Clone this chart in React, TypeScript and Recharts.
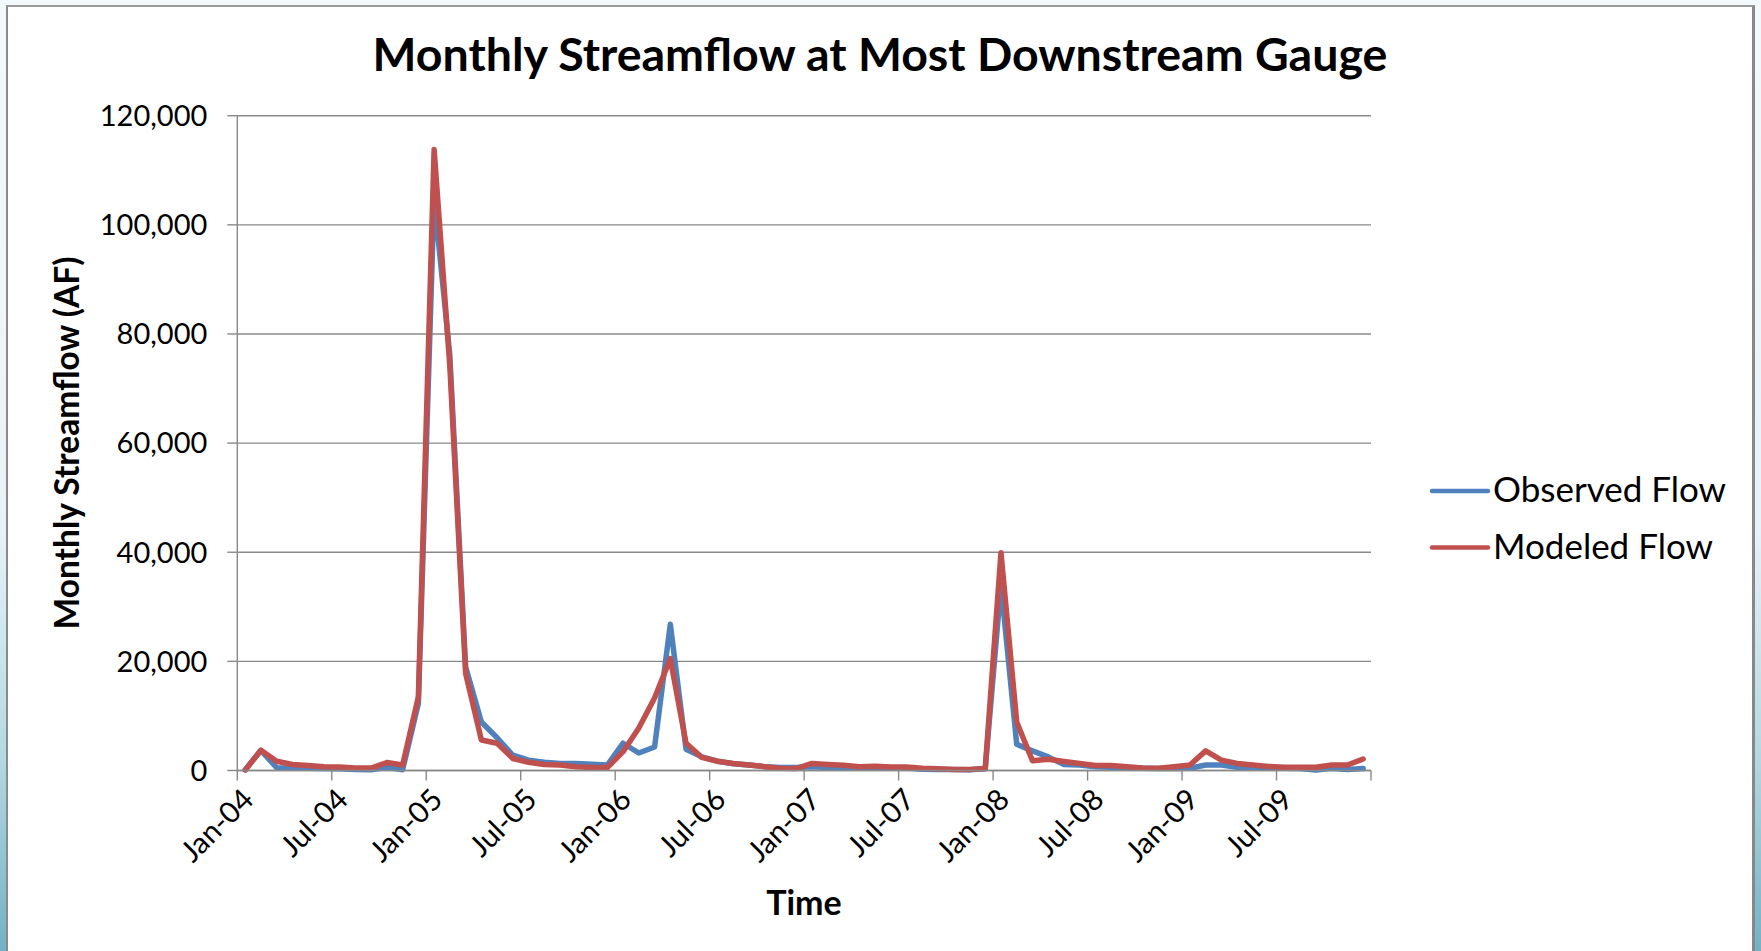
import React from "react";
import { LineChart, Line, XAxis, YAxis, CartesianGrid, Legend } from "recharts";

const months: string[] = [
  "Jan-04", "Feb-04", "Mar-04", "Apr-04", "May-04", "Jun-04", "Jul-04", "Aug-04", "Sep-04", "Oct-04", "Nov-04", "Dec-04",
  "Jan-05", "Feb-05", "Mar-05", "Apr-05", "May-05", "Jun-05", "Jul-05", "Aug-05", "Sep-05", "Oct-05", "Nov-05", "Dec-05",
  "Jan-06", "Feb-06", "Mar-06", "Apr-06", "May-06", "Jun-06", "Jul-06", "Aug-06", "Sep-06", "Oct-06", "Nov-06", "Dec-06",
  "Jan-07", "Feb-07", "Mar-07", "Apr-07", "May-07", "Jun-07", "Jul-07", "Aug-07", "Sep-07", "Oct-07", "Nov-07", "Dec-07",
  "Jan-08", "Feb-08", "Mar-08", "Apr-08", "May-08", "Jun-08", "Jul-08", "Aug-08", "Sep-08", "Oct-08", "Nov-08", "Dec-08",
  "Jan-09", "Feb-09", "Mar-09", "Apr-09", "May-09", "Jun-09", "Jul-09", "Aug-09", "Sep-09", "Oct-09", "Nov-09", "Dec-09",
];

const observedFlow: number[] = [
  100, 3700, 500, 450, 400, 350, 300, 200, 150, 600, 150, 12300,
  105000, 76000, 19000, 8900, 6000, 2800, 1900, 1500, 1300, 1300, 1150, 1000,
  5000, 3200, 4300, 26800, 3900, 2500, 1700, 1250, 1000, 700, 550, 550,
  700, 550, 500, 400, 450, 400, 450, 250, 200, 200, 150, 300,
  34000, 4800, 3600, 2500, 1100, 1000, 700, 600, 500, 400, 350, 350,
  400, 1000, 1000, 600, 500, 450, 400, 350, 100, 400, 200, 350,
];

const modeledFlow: number[] = [
  100, 3700, 1700, 1100, 900, 700, 650, 450, 450, 1450, 1000, 13500,
  113800, 74000, 17800, 5600, 5000, 2200, 1500, 1100, 1000, 700, 550, 550,
  3450, 7800, 13300, 20500, 5000, 2400, 1700, 1300, 1000, 700, 400, 350,
  1300, 1100, 950, 700, 800, 650, 650, 400, 300, 200, 200, 350,
  39900, 8900, 1800, 2050, 1650, 1300, 900, 900, 700, 450, 400, 700,
  1000, 3600, 1900, 1300, 1000, 750, 600, 600, 600, 1000, 1000, 2100,
];

const xTickLabels: string[] = [
  "Jan-04", "Jul-04", "Jan-05", "Jul-05", "Jan-06", "Jul-06",
  "Jan-07", "Jul-07", "Jan-08", "Jul-08", "Jan-09", "Jul-09",
];
const xTickPositions: number[] = [0, 6, 12, 18, 24, 30, 36, 42, 48, 54, 60, 66, 72];
const yTicks: number[] = [0, 20000, 40000, 60000, 80000, 100000, 120000];
const legendOrder: string[] = ["observed", "modeled"];

const data = months.map((m, i) => ({
  month: m,
  x: i + 0.5,
  observed: observedFlow[i],
  modeled: modeledFlow[i],
}));

const FONT = "Lato, 'Open Sans', 'DejaVu Sans', sans-serif";
const BLUE = "#4F81BD";
const RED = "#C0504D";
const GRID = "#898989";

const XTick = (props: any) => {
  const { x, y, payload } = props;
  const idx = Math.round(payload.value / 6);
  const label = xTickLabels[idx] ?? "";
  const ax = x + 18;
  const ay = y + 19;
  return (
    <text
      x={ax}
      y={ay}
      textAnchor="end"
      transform={`rotate(-45 ${ax} ${ay})`}
      fontSize={29.5}
      fontFamily={FONT}
      fill="#000"
    >
      {label}
    </text>
  );
};

const renderLegend = (props: any) => {
  const payload = props.payload || [];
  const ordered = legendOrder
    .map((k) => payload.find((p: any) => p.dataKey === k))
    .filter(Boolean);
  return (
    <svg width={330} height={110} style={{ display: "block" }}>
      {ordered.map((p: any, i: number) => (
        <g key={i}>
          <line
            x1={7}
            x2={63}
            y1={31 + i * 56.5}
            y2={31 + i * 56.5}
            stroke={p.color}
            strokeWidth={4.5}
            strokeLinecap="round"
          />
          <text x={68} y={42 + i * 57} fontSize={35} fontFamily={FONT} fill="#000">
            {p.value}
          </text>
        </g>
      ))}
    </svg>
  );
};

export default function App() {
  return (
    <div
      style={{
        position: "absolute",
        left: 0,
        top: 0,
        width: 1761,
        height: 951,
        overflow: "hidden",
        background:
          "linear-gradient(to bottom, #f3f9fb 0%, #e8f3f7 55%, #b3d8e1 80%, #72b2c4 100%)",
      }}
    >
      <div
        style={{
          position: "absolute",
          left: 6,
          top: 5,
          width: 1749,
          height: 1000,
          background: "#fff",
          borderLeft: "2px solid #8a8a8a",
          borderTop: "2px solid #9a9a9a",
          borderRight: "3px solid #888",
          boxSizing: "border-box",
        }}
      />
      <div style={{ position: "absolute", left: 0, top: 0 }}>
        <LineChart
          width={1761}
          height={951}
          data={data}
          margin={{ top: 115.7, right: 60, bottom: 0, left: 0 }}
        >
          <CartesianGrid vertical={false} stroke={GRID} strokeWidth={1.4} />
          <XAxis
            type="number"
            dataKey="x"
            domain={[0, 72]}
            ticks={xTickPositions}
            interval={0}
            height={180.5}
            tickSize={10}
            tickLine={{ stroke: GRID, strokeWidth: 1.4 }}
            axisLine={{ stroke: GRID, strokeWidth: 1.4 }}
            tick={<XTick />}
            allowDecimals={false}
          />
          <YAxis
            type="number"
            domain={[0, 120000]}
            ticks={yTicks}
            interval={0}
            width={237.3}
            tickSize={10}
            tickMargin={20}
            tickLine={{ stroke: GRID, strokeWidth: 1.4 }}
            axisLine={{ stroke: GRID, strokeWidth: 1.4 }}
            tick={{ fontSize: 29, fontFamily: FONT, fill: "#000" }}
            tickFormatter={(v: number) => v.toLocaleString("en-US")}
          />
          <Legend
            layout="horizontal"
            verticalAlign="middle"
            align="right"
            wrapperStyle={{ left: 1425, top: 460, width: 330, height: 110 }}
            content={renderLegend}
          />
          <Line
            type="linear"
            dataKey="observed"
            name="Observed Flow"
            stroke={BLUE}
            strokeWidth={5.5}
            strokeLinejoin="round"
            strokeLinecap="round"
            dot={false}
            activeDot={false}
            isAnimationActive={false}
          />
          <Line
            type="linear"
            dataKey="modeled"
            name="Modeled Flow"
            stroke={RED}
            strokeWidth={5.5}
            strokeLinejoin="round"
            strokeLinecap="round"
            dot={false}
            activeDot={false}
            isAnimationActive={false}
          />
          <text x={880} y={71} textAnchor="middle" fontSize={46.5} fontWeight={700} fontFamily={FONT} fill="#000">
            Monthly Streamflow at Most Downstream Gauge
          </text>
          <text
            x={-443}
            y={79}
            transform="rotate(-90)"
            textAnchor="middle"
            fontSize={33.5}
            fontWeight={700}
            fontFamily={FONT}
            fill="#000"
          >
            Monthly Streamflow (AF)
          </text>
          <text x={804} y={915} textAnchor="middle" fontSize={34} fontWeight={700} fontFamily={FONT} fill="#000">
            Time
          </text>
        </LineChart>
      </div>
    </div>
  );
}
